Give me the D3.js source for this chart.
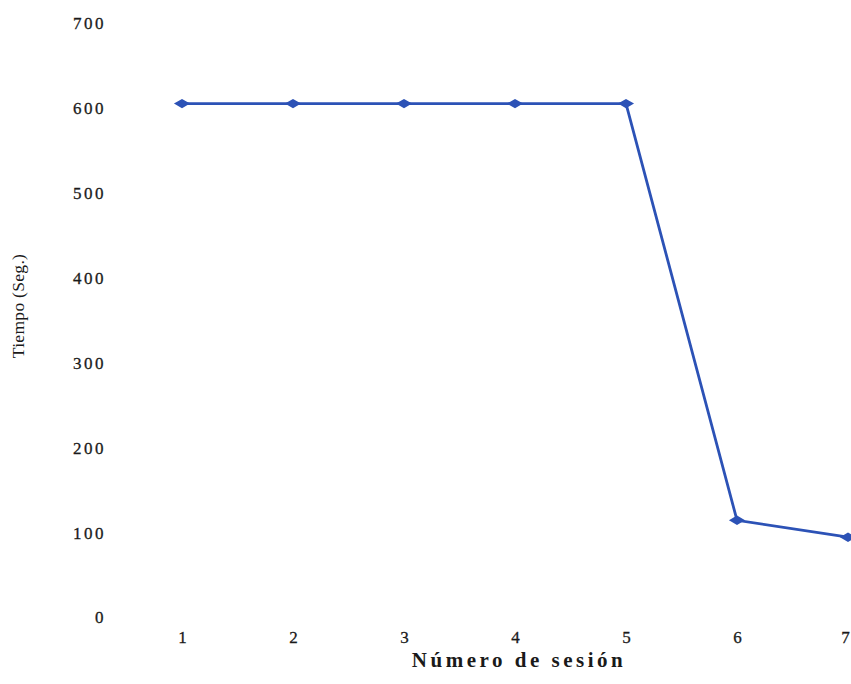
<!DOCTYPE html>
<html><head><meta charset="utf-8">
<script src="https://cdn.jsdelivr.net/npm/d3@7/dist/d3.min.js"></script>
<style>body{margin:0;background:#fff}svg{display:block}</style>
</head><body>
<svg id="c" width="851" height="684"></svg>
<script>
const sessions = [1, 2, 3, 4, 5, 6, 7];
const tiempo = [605, 605, 605, 605, 605, 114, 94];
const yTicks = [0, 100, 200, 300, 400, 500, 600, 700];

const svg = d3.select("#c");
const x = d3.scaleLinear().domain([1, 7]).range([182, 848]);
const y = d3.scaleLinear().domain([0, 700]).range([617, 23]);
const font = "'Liberation Serif', 'Times New Roman', serif";

const yAxis = d3.axisLeft(y).tickValues(yTicks).tickSize(0).tickPadding(0);
const gy = svg.append("g").attr("transform", "translate(106,0)").call(yAxis);
gy.select(".domain").remove();
gy.selectAll("text").attr("font-family", font).attr("font-size", 17)
  .attr("letter-spacing", "2.5px").attr("fill", "#1a1a1a")
  .attr("stroke", "#1a1a1a").attr("stroke-width", 0.3).attr("dy", "0.35em");

const xAxis = d3.axisBottom(x).tickValues(sessions).tickSize(0).tickPadding(0).tickFormat(d3.format("d"));
const gx = svg.append("g").attr("transform", "translate(0,631)").call(xAxis);
gx.select(".domain").remove();
gx.selectAll("text").attr("font-family", font).attr("font-size", 17)
  .attr("fill", "#1a1a1a").attr("stroke", "#1a1a1a").attr("stroke-width", 0.3).attr("dy", "0.71em");
gx.selectAll("text").filter(d => d === 7).attr("dx", "-3");

svg.append("text").attr("transform", "translate(24,306) rotate(-90)")
  .attr("text-anchor", "middle").attr("font-family", font)
  .attr("font-size", 17.5).attr("letter-spacing", "0.3px").attr("fill", "#1a1a1a").text("Tiempo (Seg.)");

svg.append("text").attr("x", 519).attr("y", 667).attr("text-anchor", "middle")
  .attr("font-family", font).attr("font-weight", "bold")
  .attr("font-size", 21).attr("letter-spacing", "3.5px").attr("fill", "#1a1a1a").text("Número de sesión");

const data = sessions.map((s, i) => ({s, v: tiempo[i]}));
svg.append("path").datum(data)
  .attr("d", d3.line().x(d => x(d.s)).y(d => y(d.v)))
  .attr("fill", "none").attr("stroke", "#2c52b6").attr("stroke-width", 2.8);

svg.selectAll(".pt").data(data).enter().append("path")
  .attr("transform", d => `translate(${x(d.s)},${y(d.v)}) rotate(90)`)
  .attr("d", d3.symbol().type(d3.symbolDiamond).size(75))
  .attr("fill", "#2c52b6");
</script>
</body></html>
